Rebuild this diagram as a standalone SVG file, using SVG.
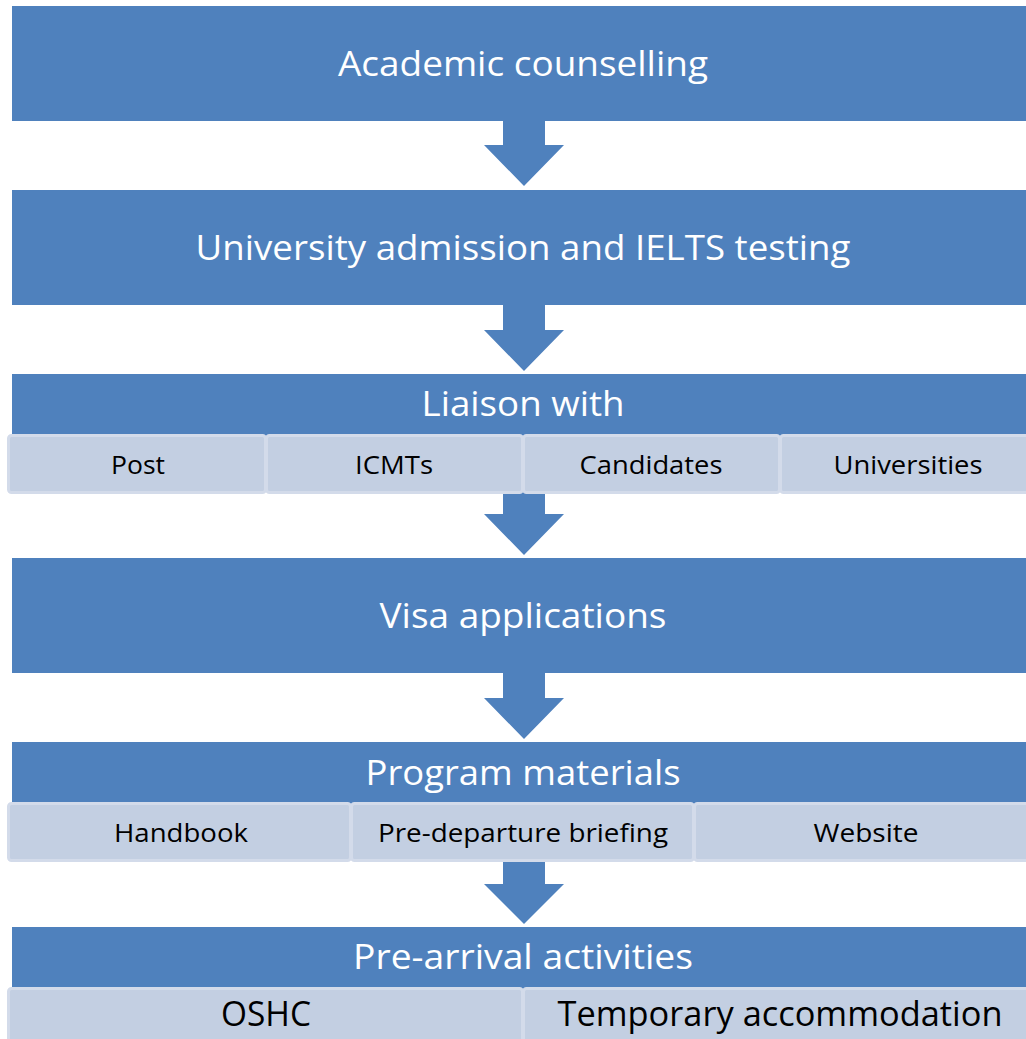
<svg xmlns="http://www.w3.org/2000/svg" width="1026" height="1039" viewBox="0 0 1026 1039">
<style>
.band{fill:#4f81bd;}
.arrow{fill:#4f81bd;}
.cell{fill:#c3cfe2;stroke:#d3dbea;stroke-width:3;}
.t{font-family:"Open Sans","Liberation Sans",sans-serif;fill:#ffffff;text-anchor:middle;font-size:35px;}
.s{font-family:"Open Sans","Liberation Sans",sans-serif;fill:#000000;text-anchor:middle;font-size:26px;}
.b{font-family:"Open Sans","Liberation Sans",sans-serif;fill:#000000;text-anchor:middle;font-size:34px;}
</style>
<rect width="1026" height="1039" fill="#ffffff"/>
<g id="connectors">
<polygon class="arrow" points="503,119 545,119 545,145 564,145 524,186 484,145 503,145"/>
<polygon class="arrow" points="503,303 545,303 545,330 564,330 524,371 484,330 503,330"/>
<polygon class="arrow" points="503,492 545,492 545,514 564,514 524,555 484,514 503,514"/>
<polygon class="arrow" points="503,671 545,671 545,698 564,698 524,739 484,698 503,698"/>
<polygon class="arrow" points="503,860 545,860 545,884 564,884 524,924 484,884 503,884"/>
</g>
<g id="node-academic">
<rect class="band" x="12" y="6" width="1030" height="115"/>
<text class="t" x="523" y="76" textLength="370" lengthAdjust="spacingAndGlyphs">Academic counselling</text>
</g>
<g id="node-admission">
<rect class="band" x="12" y="190" width="1030" height="115"/>
<text class="t" x="523" y="260" textLength="655" lengthAdjust="spacingAndGlyphs">University admission and IELTS testing</text>
</g>
<g id="node-liaison">
<rect class="band" x="12" y="374" width="1030" height="62"/>
<text class="t" x="523" y="416" textLength="203" lengthAdjust="spacingAndGlyphs">Liaison with</text>
<rect class="cell" x="8.5" y="435.5" width="257" height="57" rx="3"/>
<rect class="cell" x="266.5" y="435.5" width="256" height="57" rx="3"/>
<rect class="cell" x="523.5" y="435.5" width="256" height="57" rx="3"/>
<rect class="cell" x="780.5" y="435.5" width="256" height="57" rx="3"/>
<text class="s" x="138" y="474" textLength="54" lengthAdjust="spacingAndGlyphs">Post</text>
<text class="s" x="394" y="474" textLength="78" lengthAdjust="spacingAndGlyphs">ICMTs</text>
<text class="s" x="651" y="474" textLength="143" lengthAdjust="spacingAndGlyphs">Candidates</text>
<text class="s" x="908" y="474" textLength="149" lengthAdjust="spacingAndGlyphs">Universities</text>
</g>
<g id="node-visa">
<rect class="band" x="12" y="558" width="1030" height="115"/>
<text class="t" x="523" y="628" textLength="287" lengthAdjust="spacingAndGlyphs">Visa applications</text>
</g>
<g id="node-program">
<rect class="band" x="12" y="742" width="1030" height="62"/>
<text class="t" x="523" y="785" textLength="315" lengthAdjust="spacingAndGlyphs">Program materials</text>
<rect class="cell" x="8.5" y="803.5" width="342" height="57" rx="3"/>
<rect class="cell" x="351.5" y="803.5" width="342" height="57" rx="3"/>
<rect class="cell" x="694.5" y="803.5" width="342" height="57" rx="3"/>
<text class="s" x="181" y="842" textLength="134" lengthAdjust="spacingAndGlyphs">Handbook</text>
<text class="s" x="523" y="842" textLength="290" lengthAdjust="spacingAndGlyphs">Pre-departure briefing</text>
<text class="s" x="866" y="842" textLength="105" lengthAdjust="spacingAndGlyphs">Website</text>
</g>
<g id="node-prearrival">
<rect class="band" x="12" y="927" width="1030" height="62"/>
<text class="t" x="523" y="969" textLength="340" lengthAdjust="spacingAndGlyphs">Pre-arrival activities</text>
<rect class="cell" x="8.5" y="988.5" width="514" height="57" rx="3"/>
<rect class="cell" x="523.5" y="988.5" width="514" height="57" rx="3"/>
<text class="b" x="266" y="1026" textLength="90" lengthAdjust="spacingAndGlyphs">OSHC</text>
<text class="b" x="780" y="1026" textLength="445" lengthAdjust="spacingAndGlyphs">Temporary accommodation</text>
</g>
</svg>
